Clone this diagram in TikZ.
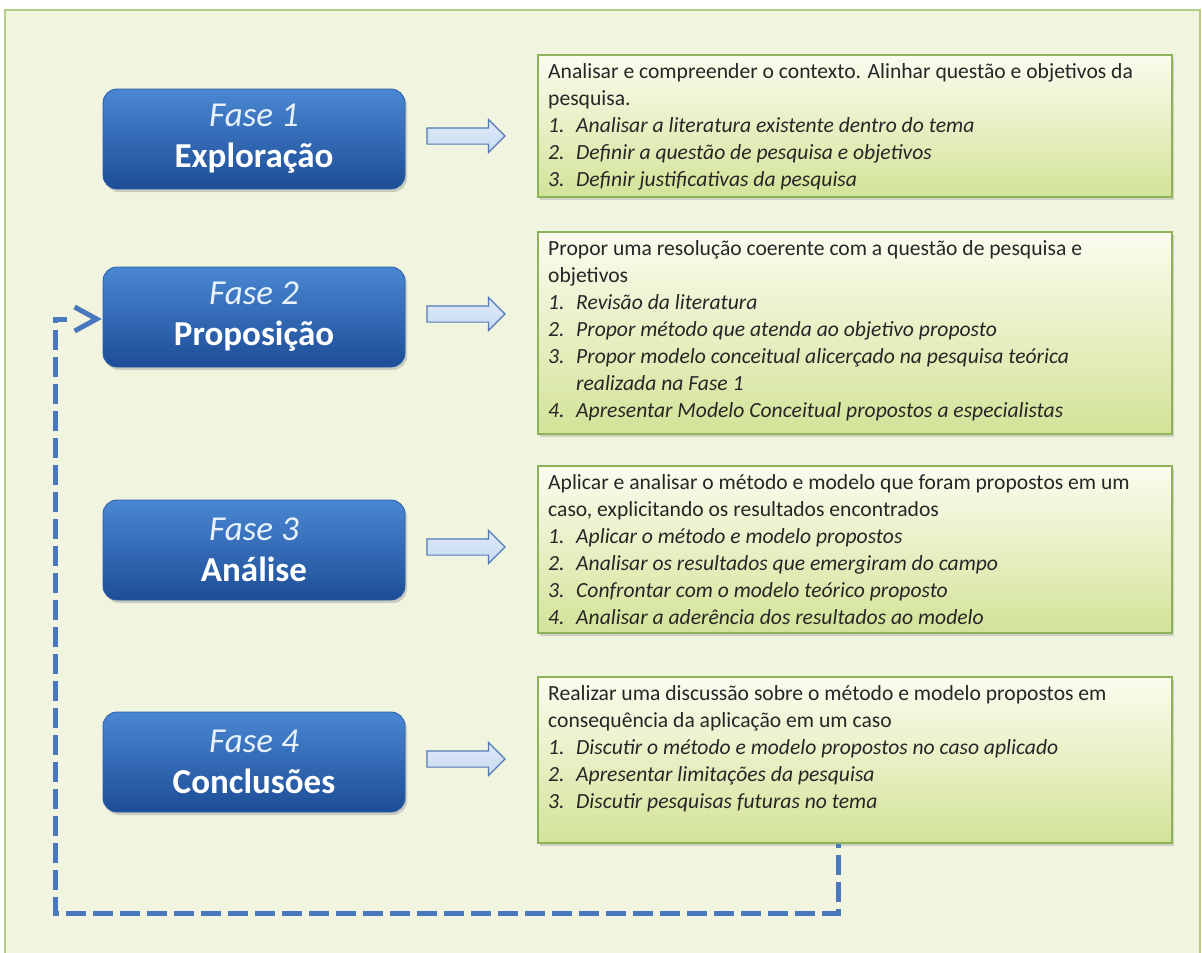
\documentclass[tikz,border=0pt]{standalone}
\usepackage{fontspec}
\setmainfont{Carlito}
\usetikzlibrary{shapes.arrows,shadows,arrows.meta}
\definecolor{bgfill}{HTML}{F1F5E0}
\definecolor{bgline}{HTML}{B3CD88}
\definecolor{btop}{HTML}{4A87D2}
\definecolor{bbot}{HTML}{1D4D97}
\definecolor{bline}{HTML}{2A5CA6}
\definecolor{gtop}{HTML}{FBFCEF}
\definecolor{gbot}{HTML}{D3E398}
\definecolor{gline}{HTML}{8DB35A}
\definecolor{arfill}{HTML}{C9DBF2}
\definecolor{arline}{HTML}{5079B8}
\definecolor{dashc}{HTML}{4A78BE}
\definecolor{txt}{HTML}{262626}
\tikzset{
  fasebox/.style={draw=bline, line width=0.8pt, rounded corners=14pt, top color=btop, bottom color=bbot,
    minimum width=302pt, minimum height=100pt, text=white, align=center,
    drop shadow={shadow xshift=2pt, shadow yshift=-3pt, opacity=0.35},
    font=\fontsize{35}{41}\selectfont},
  descbox/.style={draw=gline, line width=2pt, top color=gtop, bottom color=gbot, minimum width=634pt,
    drop shadow={shadow xshift=2pt, shadow yshift=-3pt, opacity=0.3}, anchor=north west},
  desctext/.style={anchor=north west, align=left, text=txt, inner sep=0pt,
    font=\fontsize{21.6}{27}\selectfont},
  smallarrow/.style={single arrow, draw=arline, line width=1.2pt, top color=arfill!60!white, bottom color=arfill,
    minimum height=78pt, inner xsep=0pt, inner ysep=7.5pt, single arrow head extend=8.5pt},
  fb/.style={draw=dashc, line width=5pt, dash pattern=on 20pt off 7pt, dash phase=16pt},
  fbhead/.style={draw=dashc, line width=5pt, line join=miter},
}
\newcommand{\itm}[2]{\makebox[28pt][l]{\itshape #1}\textit{#2}}
\begin{document}
\begin{tikzpicture}[x=1pt,y=-1pt]
\useasboundingbox (0,0) rectangle (1202,953);
\fill[white] (0,0) rectangle (1202,953);
\draw[fill=bgfill, draw=bgline, line width=1.5pt] (5,10) rectangle (1200,960);

% phase boxes
\node[fasebox] (f1) at (254,139) {\textcolor{white!88!btop}{\textit{Fase 1}}\\\textbf{Exploração}};
\node[fasebox] (f2) at (254,317) {\textcolor{white!88!btop}{\textit{Fase 2}}\\\textbf{Proposição}};
\node[fasebox] (f3) at (254,550) {\textcolor{white!88!btop}{\textit{Fase 3}}\\\textbf{Análise}};
\node[fasebox] (f4) at (254,762) {\textcolor{white!88!btop}{\textit{Fase 4}}\\\textbf{Conclusões}};

% arrows
\node[smallarrow] (a1) at (462,136) {};
\node[smallarrow] (a2) at (462,314) {};
\node[smallarrow] (a3) at (462,547) {};
\node[smallarrow] (a4) at (462,759) {};

% description boxes
\node[descbox, minimum height=142pt] (b1) at (537,54) {};
\node[descbox, minimum height=202pt] (b2) at (537,231) {};
\node[descbox, minimum height=167pt] (b3) at (537,465) {};
\node[descbox, minimum height=166pt] (b4) at (537,676) {};

\node[desctext] (t1) at ([xshift=11pt,yshift=-9pt]b1.north west) {%
Analisar e compreender  o contexto. Alinhar questão e objetivos da\\
pesquisa.\\
\itm{1.}{Analisar a literatura existente  dentro do tema}\\
\itm{2.}{Definir a questão de pesquisa e objetivos}\\
\itm{3.}{Definir justificativas da pesquisa}};

\node[desctext] (t2) at ([xshift=11pt,yshift=-9pt]b2.north west) {%
Propor uma resolução coerente com a questão de pesquisa e\\
objetivos\\
\itm{1.}{Revisão da literatura}\\
\itm{2.}{Propor método que atenda ao objetivo proposto}\\
\itm{3.}{Propor modelo conceitual  alicerçado na pesquisa teórica}\\
\hspace*{28pt}\textit{realizada na Fase 1}\\
\itm{4.}{Apresentar Modelo Conceitual propostos a especialistas}};

\node[desctext] (t3) at ([xshift=11pt,yshift=-9pt]b3.north west) {%
Aplicar e analisar o método e modelo que foram propostos em um\\
caso, explicitando  os resultados encontrados\\
\itm{1.}{Aplicar o método e modelo propostos}\\
\itm{2.}{Analisar os resultados que emergiram do campo}\\
\itm{3.}{Confrontar com o modelo teórico proposto}\\
\itm{4.}{Analisar a aderência dos resultados ao modelo}};

\node[desctext] (t4) at ([xshift=11pt,yshift=-9pt]b4.north west) {%
Realizar uma discussão sobre o método e modelo propostos em\\
consequência da aplicação em um caso\\
\itm{1.}{Discutir o método e modelo propostos no caso aplicado}\\
\itm{2.}{Apresentar limitações da pesquisa}\\
\itm{3.}{Discutir pesquisas futuras no tema}};

% feedback loop
\coordinate (c1) at (838,913);
\coordinate (c2) at (55,913);
\coordinate (tip) at ([xshift=-6pt,yshift=-2pt]f2.west);
\draw[fb] (838,0 |- b4.south) -- (c1) -- (c2) -- (55,0 |- tip) -- ([xshift=-30pt]tip);
\draw[fbhead] ([xshift=-22pt,yshift=12pt]tip) -- (tip) -- ([xshift=-22pt,yshift=-12pt]tip);
\end{tikzpicture}
\end{document}
